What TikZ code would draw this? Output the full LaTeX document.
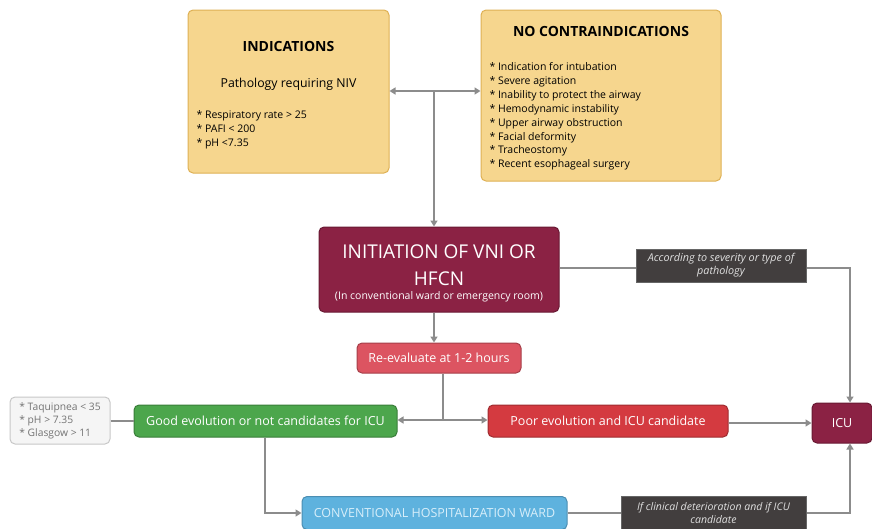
\documentclass[tikz,border=0pt]{standalone}
\usepackage{fontspec}
\setmainfont{Open Sans}
\usetikzlibrary{arrows.meta,positioning}
\definecolor{yelfill}{RGB}{246,214,142}
\definecolor{yeldraw}{RGB}{222,176,84}
\definecolor{maroon}{RGB}{139,34,68}
\definecolor{pinkred}{RGB}{220,84,97}
\definecolor{okgreen}{RGB}{76,166,76}
\definecolor{badred}{RGB}{212,58,64}
\definecolor{wardblue}{RGB}{94,178,222}
\definecolor{wardtext}{RGB}{215,238,250}
\definecolor{notebg}{RGB}{66,62,62}
\definecolor{linegrey}{RGB}{140,140,140}
\definecolor{textdark}{RGB}{45,38,30}
\tikzset{
  box/.style={rectangle, rounded corners=5pt, line width=1pt, inner sep=0pt},
  yelbox/.style={box, fill=yelfill, draw=yeldraw, text=textdark},
  solidbox/.style={box, text=white, draw=#1!75!black, fill=#1},
  notebox/.style={rectangle, fill=notebg, draw=black!60, line width=0.8pt, text=white!88!black,
    align=center, inner sep=0pt},
  link/.style={draw=linegrey, line width=1.6pt},
  arr/.style={link, -{Triangle[width=7pt,length=6pt]}},
  bodyfont/.style={font=\fontsize{12.5}{14}\selectfont},
}
\begin{document}
\begin{tikzpicture}[x=1pt,y=-1pt]
\useasboundingbox (0,0) rectangle (872,528);

% top boxes
\node[yelbox, minimum width=201pt, minimum height=163pt] (ind) at (288.5,91.5) {};
\node[font=\fontsize{14}{16}\selectfont\bfseries] at (288.5,46) {INDICATIONS};
\node[font=\fontsize{12.3}{14}\selectfont] at (288.5,84) {Pathology requiring NIV};
\node[font=\fontsize{10.5}{13.8}\selectfont, align=left, anchor=north west] at (193,107)
  {* Respiratory rate > 25\\* PAFI < 200\\* pH <7.35};

\node[yelbox, minimum width=240pt, minimum height=171pt] (contra) at (601,95.5) {};
\node[font=\fontsize{14}{16}\selectfont\bfseries] at (601,31) {NO CONTRAINDICATIONS};
\node[font=\fontsize{10.5}{13.9}\selectfont, align=left, anchor=north west] at (486,59)
  {* Indication for intubation\\* Severe agitation\\* Inability to protect the airway\\
   * Hemodynamic instability\\* Upper airway obstruction\\* Facial deformity\\
   * Tracheostomy\\* Recent esophageal surgery};

% main flow
\node[solidbox=maroon, minimum width=240pt, minimum height=85pt] (init) at (439,269.5) {};
\node[text=white, font=\fontsize{19}{27}\selectfont, align=center] at (439,265)
  {INITIATION OF VNI OR\\HFCN};
\node[text=white, font=\fontsize{10.5}{12}\selectfont] at (439,296.5) {(In conventional ward or emergency room)};

\node[solidbox=pinkred, minimum width=164pt, minimum height=30pt, bodyfont]
  (reeval) at (439,358) {Re-evaluate at 1-2 hours};

\node[solidbox=okgreen, minimum width=263pt, minimum height=32pt, bodyfont]
  (good) at (265.5,421) {Good evolution or not candidates for ICU};
\node[solidbox=badred, minimum width=240pt, minimum height=32pt, bodyfont]
  (poor) at (608,421) {Poor evolution and ICU candidate};
\node[solidbox=maroon, minimum width=60pt, minimum height=40pt, bodyfont]
  (icu) at (842,423) {ICU};

\node[box, fill=black!4, draw=black!22, text=black!55, minimum width=100pt, minimum height=47pt,
  font=\fontsize{10.3}{13}\selectfont, align=left] (crit) at (60,420.5)
  {* Taquipnea < 35\\* pH > 7.35\\* Glasgow > 11};

\node[box, fill=wardblue, draw=wardblue!80!black, text=wardtext, minimum width=265pt, minimum height=33pt,
  bodyfont] (ward) at (434.5,513) {CONVENTIONAL HOSPITALIZATION WARD};

% connectors
\coordinate (hub) at (434,91);
\draw[arr] (hub) -- (ind.east |- hub);
\draw[arr] (hub) -- (contra.west |- hub);
\draw[arr] (hub) -- (init.north -| hub);
\draw[arr] (init.south -| hub) -- (reeval.north -| hub);

\coordinate (split) at (443,420);
\draw[link] (reeval.south -| split) -- (split);
\draw[arr] (split) -- (good.east |- split);
\draw[arr] (split) -- (poor.west |- split);
\draw[arr] (poor.east |- icu) -- (icu.west);
\draw[link] (crit.east |- good) -- (good.west);

\coordinate (tr) at (850,268);
\draw[arr] (init.east |- tr) -- (tr) -- (icu.north -| tr);
\coordinate (br) at (850,513);
\draw[arr] (ward.east) -- (br) -- (icu.south -| br);
\coordinate (bl) at (265,513);
\draw[arr] (good.south -| bl) -- (bl) -- (ward.west);

% notes on the links to ICU
\node[notebox, minimum width=170pt, minimum height=33pt,
  font=\fontsize{10.8}{13}\selectfont\itshape] (note1) at (721,265.5)
  {According to severity or type of\\pathology};
\node[notebox, minimum width=185pt, minimum height=33pt,
  font=\fontsize{10.5}{13}\selectfont\itshape] (note2) at (713.5,513)
  {If clinical deterioration and if ICU\\candidate};
\end{tikzpicture}
\end{document}
